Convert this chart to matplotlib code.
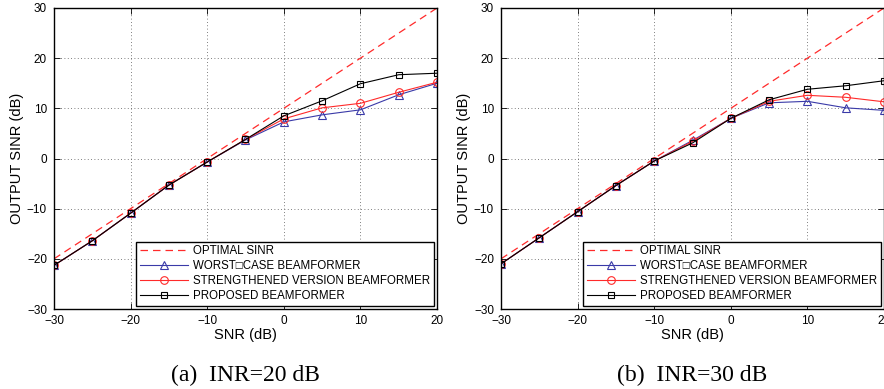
import matplotlib
matplotlib.use("Agg")
import matplotlib.pyplot as plt

plt.rcParams['font.family'] = ['Liberation Sans', 'DejaVu Sans']

snr = [-30, -25, -20, -15, -10, -5, 0, 5, 10, 15, 20]
optimal = [-20, 30]
optimal_x = [-30, 20]

# (a) INR=20 dB
worst_a = [-21.3, -16.4, -10.9, -5.3, -0.7, 3.7, 7.3, 8.7, 9.7, 12.7, 15.0]
strong_a = [-21.3, -16.4, -10.9, -5.3, -0.7, 3.8, 7.9, 10.1, 11.0, 13.2, 15.2]
proposed_a = [-21.3, -16.4, -10.9, -5.3, -0.7, 3.8, 8.5, 11.5, 14.9, 16.7, 17.0]

# (b) INR=30 dB
worst_b = [-21.0, -15.8, -10.6, -5.4, -0.5, 3.6, 8.0, 11.1, 11.4, 10.1, 9.6]
strong_b = [-21.0, -15.8, -10.6, -5.4, -0.5, 3.4, 8.0, 11.4, 12.6, 12.2, 11.3]
proposed_b = [-21.0, -15.8, -10.6, -5.4, -0.5, 3.1, 8.0, 11.7, 13.8, 14.5, 15.5]

labels = ['OPTIMAL SINR', 'WORST\u25a1CASE BEAMFORMER',
          'STRENGTHENED VERSION BEAMFORMER', 'PROPOSED BEAMFORMER']
captions = ['(a)  INR=20 dB', '(b)  INR=30 dB']

fig = plt.figure(figsize=(8.84, 3.89), dpi=100)
ax1 = fig.add_axes([54 / 884, 80 / 389, 383 / 884, 301 / 389])
ax2 = fig.add_axes([501 / 884, 80 / 389, 383 / 884, 301 / 389])

blue = '#3a3aa8'
red = '#ff2a2a'

for ax, w, s, p, cap in [(ax1, worst_a, strong_a, proposed_a, captions[0]),
                         (ax2, worst_b, strong_b, proposed_b, captions[1])]:
    ax.plot(optimal_x, optimal, '--', color=red, lw=0.9, dashes=(6, 4), label=labels[0])
    ax.plot(snr, w, '-^', color=blue, lw=0.8, ms=5.5, mfc='none', mew=0.8, label=labels[1])
    ax.plot(snr, s, '-o', color=red, lw=0.8, ms=5.5, mfc='none', mew=0.8, label=labels[2])
    ax.plot(snr, p, '-s', color='black', lw=0.8, ms=5, mfc='none', mew=0.8, label=labels[3])
    ax.set_xlim(-30, 20)
    ax.set_ylim(-30, 30)
    ax.set_xticks(range(-30, 21, 10))
    ax.set_yticks(range(-30, 31, 10))
    ax.grid(True, color='#555555', linestyle=(0, (1, 3)), lw=0.6)
    ax.tick_params(direction='in', labelsize=8.5, length=4, width=0.6, top=True, right=True)
    ax.tick_params(axis='x', pad=4)
    ax.tick_params(axis='y', pad=5)
    for sp in ax.spines.values():
        sp.set_linewidth(1.0)
    ax.set_xlabel('SNR (dB)', fontsize=10.5, labelpad=1)
    ax.set_ylabel('OUTPUT SINR (dB)', fontsize=10.5, labelpad=2)
    leg = ax.legend(loc='lower right', fontsize=8.3, frameon=True, fancybox=False,
                    edgecolor='black', framealpha=1, borderpad=0.3, labelspacing=0.25,
                    handlelength=4.2, handletextpad=0.4, borderaxespad=0.3)
    leg.get_frame().set_linewidth(1.0)
    ax.text(0.5, -0.22, cap, transform=ax.transAxes, ha='center', va='center',
            fontsize=17, family='Liberation Serif')

fig.savefig('out.png', dpi=100)
